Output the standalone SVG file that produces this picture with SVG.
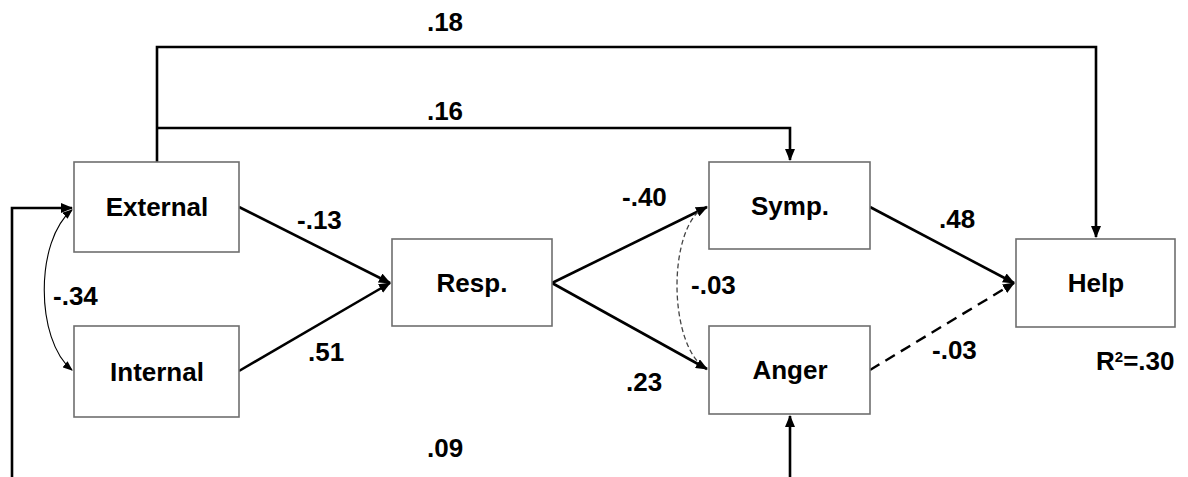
<svg xmlns="http://www.w3.org/2000/svg" width="1188" height="477" viewBox="0 0 1188 477">
<defs>
<marker id="ah" viewBox="0 0 12 10" refX="11" refY="5" markerWidth="12" markerHeight="10" markerUnits="userSpaceOnUse" orient="auto">
<path d="M0,0 L12,5 L0,10 Z" fill="#000"/>
</marker>
<marker id="ahs" viewBox="0 0 10 8" refX="9" refY="4" markerWidth="10" markerHeight="8" markerUnits="userSpaceOnUse" orient="auto-start-reverse">
<path d="M0,0 L10,4 L0,8 Z" fill="#000"/>
</marker>
</defs>
<style>
.box{fill:#fff;stroke:#6e6e6e;stroke-width:1.6}
.t{font-family:"Liberation Sans",Arial,sans-serif;font-weight:bold;font-size:26px;fill:#000}
.c{text-anchor:middle}
.ln{fill:none;stroke:#000;stroke-width:2.6}
.thin{fill:none;stroke:#000;stroke-width:1.1}
.dsh{fill:none;stroke:#444;stroke-width:1.3;stroke-dasharray:5,3}
.dshk{fill:none;stroke:#000;stroke-width:2.4;stroke-dasharray:11,7}
</style>
<rect width="1188" height="477" fill="#fff"/>
<g id="connectors">
<path class="ln" d="M157,162 V47 H1096 V237" marker-end="url(#ah)"/>
<path class="ln" d="M157,128 H790 V160" marker-end="url(#ah)"/>
<path class="ln" d="M12,490 V208 H72" marker-end="url(#ah)"/>
<path class="ln" d="M790,490 V416" marker-end="url(#ah)"/>
<path class="ln" d="M239,207 L390,283" marker-end="url(#ah)"/>
<path class="ln" d="M239,371 L390,283" marker-end="url(#ah)"/>
<path class="ln" d="M552,283 L707,207" marker-end="url(#ah)"/>
<path class="ln" d="M552,283 L707,369" marker-end="url(#ah)"/>
<path class="ln" d="M870,207 L1014,283" marker-end="url(#ah)"/>
<path class="dshk" d="M870,370 L1014,283" marker-end="url(#ah)"/>
<path class="thin" d="M72,210 C35,240 35,340 72,370" marker-start="url(#ahs)" marker-end="url(#ahs)"/>
<path class="dsh" d="M698,212 C670,240 670,330 698,362"/>
</g>
<g id="external"><rect class="box" x="74" y="162" width="165" height="90"/><text class="t c" x="157" y="216">External</text></g>
<g id="internal"><rect class="box" x="74" y="326" width="165" height="91"/><text class="t c" x="157" y="381">Internal</text></g>
<g id="resp"><rect class="box" x="392" y="239" width="160" height="87"/><text class="t c" x="472" y="292">Resp.</text></g>
<g id="symp"><rect class="box" x="709" y="162" width="161" height="87"/><text class="t c" x="790" y="215">Symp.</text></g>
<g id="anger"><rect class="box" x="709" y="326" width="161" height="88"/><text class="t c" x="790" y="379">Anger</text></g>
<g id="help"><rect class="box" x="1016" y="239" width="159" height="88"/><text class="t c" x="1096" y="292">Help</text></g>
<g id="labels">
<text class="t c" x="445" y="31">.18</text>
<text class="t c" x="445" y="120">.16</text>
<text class="t" x="297" y="229">-.13</text>
<text class="t" x="308" y="361">.51</text>
<text class="t" x="53" y="305">-.34</text>
<text class="t" x="622" y="206">-.40</text>
<text class="t" x="691" y="294">-.03</text>
<text class="t" x="626" y="391">.23</text>
<text class="t" x="939" y="228">.48</text>
<text class="t" x="932" y="359">-.03</text>
<text class="t" x="1096" y="370">R<tspan font-size="15" dy="-8">2</tspan><tspan dy="8">=.30</tspan></text>
<text class="t" x="427" y="457">.09</text>
</g>
</svg>
